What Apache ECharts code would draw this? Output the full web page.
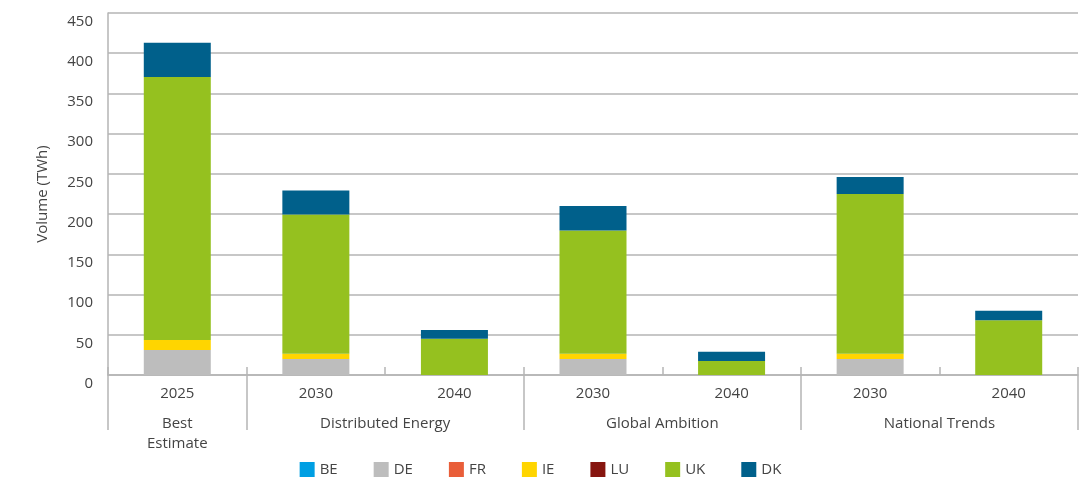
<!DOCTYPE html>
<html>
<head>
<meta charset="utf-8">
<script src="https://cdn.jsdelivr.net/npm/echarts@6/dist/echarts.min.js"></script>
<style>
html,body{margin:0;padding:0;background:#fff;}
#chart{width:1081px;height:479px;}
</style>
</head>
<body>
<div id="chart"></div>
<script>
// ---- data ----
const years = ['2025', '2030', '2040', '2030', '2040', '2030', '2040'];
const groupNames = ['Best\nEstimate', 'Distributed Energy', 'Global Ambition', 'National Trends'];
const groupCenters = [0.5, 2, 4, 6];
const groupBounds = [0, 1, 3, 5, 7];
const yTicks = [0, 50, 100, 150, 200, 250, 300, 350, 400, 450];

const seriesNames = ['BE', 'DE', 'FR', 'IE', 'LU', 'UK', 'DK'];
const BE = [0, 0, 0, 0, 0, 0, 0];
const DE = [31, 20, 0, 20, 0, 20, 0];
const FR = [0, 0, 0, 0, 0, 0, 0];
const IE = [12.5, 6.5, 0, 6.5, 0, 6.5, 0];
const LU = [0, 0, 0, 0, 0, 0, 0];
const UK = [327, 173, 45, 153, 17.4, 198.5, 68];
const DK = [42.5, 30, 11, 30.5, 11.6, 21, 12];

const colors = ['#009fe3', '#bdbdbd', '#e95e39', '#ffd500', '#86150f', '#95c11f', '#00608b'];
const seriesData = [BE, DE, FR, IE, LU, UK, DK];

const gridColor = '#b5b5b5';
const textColor = '#444';
const font = "'Open Sans', sans-serif";
const fs = 15;

const chart = echarts.init(document.getElementById('chart'));
chart.setOption({
  animation: false,
  textStyle: { fontFamily: font },
  grid: { left: 108, right: 3, top: 13, bottom: 104, containLabel: false },
  legend: {
    data: seriesNames,
    top: 457,
    left: 'center',
    icon: 'rect',
    itemWidth: 15,
    itemHeight: 15,
    itemGap: 36,
    textStyle: { fontSize: fs, color: textColor, fontFamily: font }
  },
  xAxis: [
    {
      type: 'category',
      data: years,
      boundaryGap: true,
      axisLine: { show: true, lineStyle: { color: gridColor, width: 1.5 } },
      axisTick: { show: true, inside: true, length: 8, lineStyle: { color: gridColor, width: 1.5 } },
      axisLabel: { color: textColor, fontSize: fs, margin: 11, fontFamily: font },
      splitLine: { show: false }
    },
    {
      type: 'value',
      min: 0,
      max: 7,
      position: 'bottom',
      axisLine: { show: false },
      axisTick: {
        show: true,
        customValues: groupBounds,
        length: 55,
        lineStyle: { color: gridColor, width: 1.5 }
      },
      axisLabel: {
        show: true,
        customValues: groupCenters,
        color: textColor,
        fontSize: fs,
        fontFamily: font,
        margin: 39,
        verticalAlign: 'top',
        lineHeight: 20,
        formatter: function (v) {
          const i = groupCenters.indexOf(v);
          return i >= 0 ? groupNames[i] : '';
        }
      },
      splitLine: { show: false }
    }
  ],
  yAxis: {
    type: 'value',
    min: yTicks[0],
    max: yTicks[yTicks.length - 1],
    interval: 50,
    name: 'Volume (TWh)',
    nameLocation: 'middle',
    nameGap: 58,
    nameTextStyle: { fontSize: fs, color: textColor, fontFamily: font },
    axisLine: { show: true, lineStyle: { color: gridColor, width: 1.5 } },
    axisTick: { show: false },
    axisLabel: { color: textColor, fontSize: fs, margin: 15, verticalAlign: 'top', padding: [1, 0, 0, 0], fontFamily: font },
    splitLine: { show: true, lineStyle: { color: gridColor, width: 1.5 } }
  },
  series: seriesNames.map((n, i) => ({
    name: n,
    type: 'bar',
    stack: 'total',
    xAxisIndex: 0,
    barWidth: 67,
    itemStyle: { color: colors[i] },
    data: seriesData[i]
  }))
});
</script>
</body>
</html>
